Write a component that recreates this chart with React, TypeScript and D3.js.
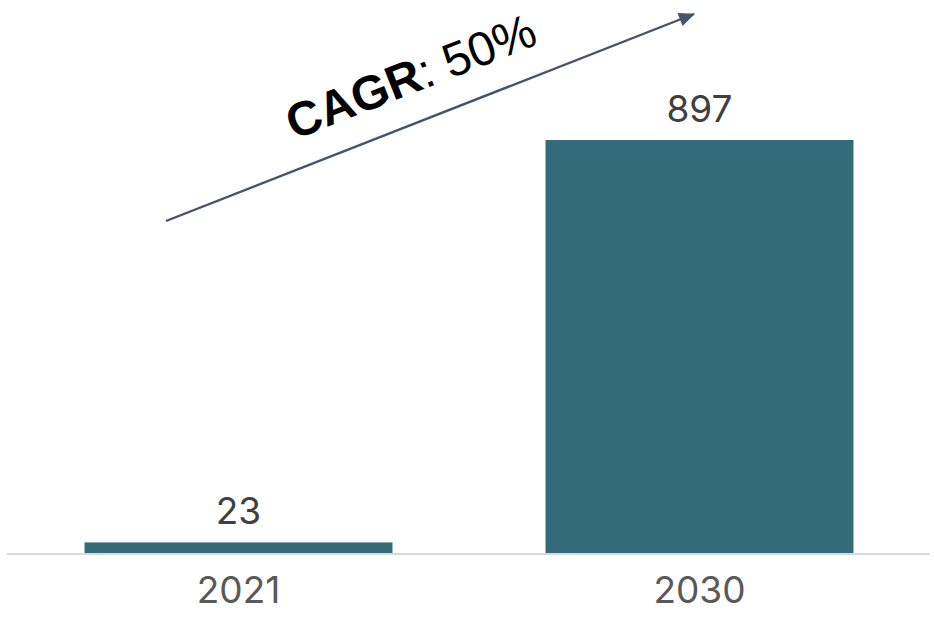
import React from "react";
import * as d3 from "d3";

const categories: string[] = ["2021", "2030"];
const values: number[] = [23, 897];
const cagrBold = "CAGR";
const cagrRest = ": 50%";

const W = 934;
const H = 619;

export default function App() {
  const x = d3
    .scaleBand<string>()
    .domain(categories)
    .range([8, 930])
    .paddingInner(0.332)
    .paddingOuter(0.166);
  const y = d3.scaleLinear().domain([0, 897]).range([553, 140]);

  const arrowStart: [number, number] = [166, 221];
  const arrowEnd: [number, number] = [694, 14];
  const angle = (Math.atan2(arrowEnd[1] - arrowStart[1], arrowEnd[0] - arrowStart[0]) * 180) / Math.PI;
  const line = d3.line();

  return (
    <svg
      width={W}
      height={H}
      style={{ position: "absolute", left: 0, top: 0, background: "#fff" }}
    >
      <defs>
        <marker
          id="ah"
          viewBox="0 0 16 14"
          refX="15"
          refY="7"
          markerWidth="17"
          markerHeight="14"
          markerUnits="userSpaceOnUse"
          orient="auto"
        >
          <path d="M0,0 L16,7 L0,14 z" fill="#44546A" />
        </marker>
      </defs>
      {categories.map((c, i) => (
        <g key={c}>
          <rect
            x={x(c)}
            y={y(values[i])}
            width={x.bandwidth()}
            height={y(0) - y(values[i])}
            fill="#346B78"
          />
          <text
            x={(x(c) as number) + x.bandwidth() / 2}
            y={y(values[i]) - 18}
            textAnchor="middle"
            fontFamily="Inter, 'DejaVu Sans', sans-serif"
            fontSize={37}
            fill="#404040"
          >
            {values[i]}
          </text>
          <text
            x={(x(c) as number) + x.bandwidth() / 2}
            y={603}
            textAnchor="middle"
            fontFamily="Inter, 'DejaVu Sans', sans-serif"
            fontSize={37}
            fill="#595959"
          >
            {c}
          </text>
        </g>
      ))}
      <line x1={7} x2={930} y1={554} y2={554} stroke="#D9D9D9" strokeWidth={2} />
      <path
        d={line([arrowStart, arrowEnd]) as string}
        stroke="#44546A"
        strokeWidth={2.4}
        fill="none"
        markerEnd="url(#ah)"
      />
      <text
        transform={`translate(294,140) rotate(${angle})`}
        fontFamily="'Liberation Sans', Arial, sans-serif"
        fontSize={48}
        fill="#000"
      >
        <tspan fontWeight="bold">{cagrBold}</tspan>
        <tspan>{cagrRest}</tspan>
      </text>
    </svg>
  );
}
